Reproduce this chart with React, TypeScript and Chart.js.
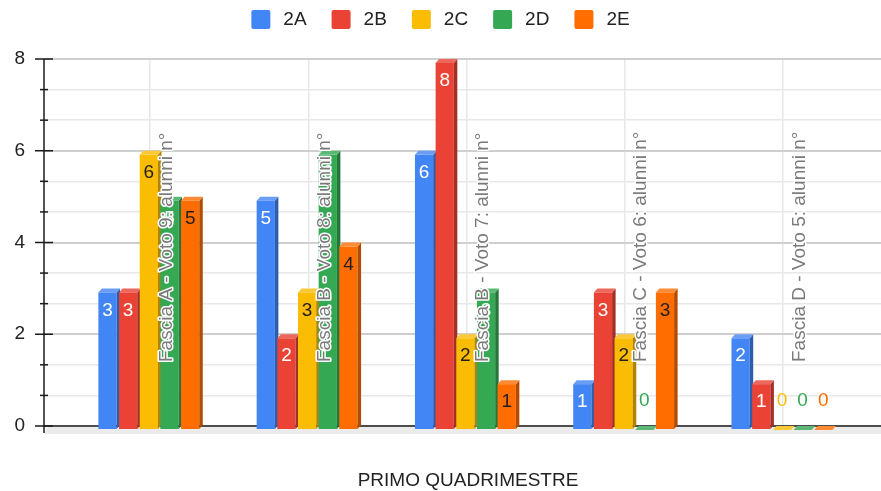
import React, { useEffect, useRef } from "react";
import { Chart, registerables } from "chart.js";

Chart.register(...registerables);

const CATEGORIES = [
  "Fascia A - Voto 9: alunni n°",
  "Fascia B - Voto 8: alunni n°",
  "Fascia B - Voto 7: alunni n°",
  "Fascia C - Voto 6: alunni n°",
  "Fascia D - Voto 5: alunni n°",
];
const SERIES_NAMES = ["2A", "2B", "2C", "2D", "2E"];
const VALUES_2A = [3, 5, 6, 1, 2];
const VALUES_2B = [3, 2, 8, 3, 1];
const VALUES_2C = [6, 3, 2, 2, 0];
const VALUES_2D = [5, 6, 3, 0, 0];
const VALUES_2E = [5, 4, 1, 3, 0];
const SERIES_VALUES = [VALUES_2A, VALUES_2B, VALUES_2C, VALUES_2D, VALUES_2E];
const Y_TICK_LABELS = [0, 2, 4, 6, 8];
const X_AXIS_TITLE = "PRIMO QUADRIMESTRE";

const COLORS = ["#4285F4", "#EA4335", "#FBBC04", "#34A853", "#FF6D01"];
const SIDE_COLORS = ["#2E5DAB", "#A42F25", "#B08403", "#24763A", "#B34C01"];
const TOP_COLORS = ["#6A9EF6", "#EE675D", "#FCC936", "#5CB975", "#FF8A34"];
const LABEL_COLORS = ["#ffffff", "#ffffff", "#1f1f1f", "#ffffff", "#1f1f1f"];
const FONT = '"Liberation Sans", Arial, sans-serif';

const W = 881;
const H = 491;
const DX = 3.5;
const DY = 4;

const isMajor = (v: number) => Y_TICK_LABELS.some((t) => Math.abs(t - v) < 1e-6);

const threeDPlugin = {
  id: "threeD",
  beforeDatasetsDraw(chart: any) {
    const { ctx, chartArea, scales } = chart;
    const y0 = scales.y.getPixelForValue(0);
    ctx.save();
    ctx.fillStyle = "#ebebeb";
    ctx.beginPath();
    ctx.moveTo(chartArea.left + DX, y0 + 1);
    ctx.lineTo(chartArea.right, y0 + 1);
    ctx.lineTo(chartArea.right, y0 + 8);
    ctx.lineTo(chartArea.left, y0 + 8);
    ctx.closePath();
    ctx.fill();
    ctx.strokeStyle = "#4d4d4d";
    ctx.lineWidth = 2;
    ctx.beginPath();
    ctx.moveTo(chartArea.left, y0);
    ctx.lineTo(chartArea.right, y0);
    ctx.stroke();
    ctx.restore();
  },
  afterDatasetsDraw(chart: any) {
    const { ctx, chartArea, scales } = chart;
    const y0 = scales.y.getPixelForValue(0);
    ctx.save();
    const labels: any[] = [];
    chart.data.datasets.forEach((ds: any, di: number) => {
      const meta = chart.getDatasetMeta(di);
      meta.data.forEach((el: any, i: number) => {
        const { x, y, base, width } = el.getProps(["x", "y", "base", "width"], true);
        const left = x - width / 2;
        const fw = width - 2.45;
        const right = left + fw;
        ctx.fillStyle = COLORS[di];
        ctx.fillRect(left, y + DY, fw, base - y);
        ctx.fillStyle = SIDE_COLORS[di];
        ctx.beginPath();
        ctx.moveTo(right, y + DY);
        ctx.lineTo(right + DX, y);
        ctx.lineTo(right + DX, base);
        ctx.lineTo(right, base + DY);
        ctx.closePath();
        ctx.fill();
        ctx.fillStyle = TOP_COLORS[di];
        ctx.beginPath();
        ctx.moveTo(left, y + DY);
        ctx.lineTo(left + DX, y);
        ctx.lineTo(right + DX, y);
        ctx.lineTo(right, y + DY);
        ctx.closePath();
        ctx.fill();
        const v = SERIES_VALUES[di][i];
        labels.push({
          text: String(v),
          x: left + fw / 2,
          y: v === 0 ? y0 - 25 : y + DY + 18,
          color: v === 0 ? COLORS[di] : LABEL_COLORS[di],
        });
      });
    });
    ctx.font = `19px ${FONT}`;
    ctx.textAlign = "center";
    ctx.textBaseline = "middle";
    labels.forEach((l) => {
      ctx.fillStyle = l.color;
      ctx.fillText(l.text, l.x, l.y);
    });
    CATEGORIES.forEach((c, i) => {
      const gx = scales.x.getPixelForValue(i);
      ctx.save();
      ctx.translate(gx + 21.5, chartArea.bottom - 64);
      ctx.rotate(-Math.PI / 2);
      ctx.textAlign = "left";
      ctx.textBaseline = "alphabetic";
      ctx.font = `19px ${FONT}`;
      ctx.lineJoin = "round";
      ctx.lineWidth = 3;
      ctx.strokeStyle = "#ffffff";
      ctx.strokeText(c, 0, 0);
      ctx.fillStyle = "#7a7a7a";
      ctx.fillText(c, 0, 0);
      ctx.restore();
    });
    ctx.restore();
  },
  afterDraw(chart: any) {
    const { ctx, chartArea, scales } = chart;
    ctx.save();
    const ax = chartArea.left;
    ctx.strokeStyle = "#1a1a1a";
    ctx.lineWidth = 1.5;
    ctx.beginPath();
    ctx.moveTo(ax, scales.y.getPixelForValue(Y_TICK_LABELS[Y_TICK_LABELS.length - 1]));
    ctx.lineTo(ax, scales.y.getPixelForValue(0) + 7);
    ctx.stroke();
    scales.y.ticks.forEach((t: any) => {
      const py = scales.y.getPixelForValue(t.value);
      ctx.beginPath();
      if (isMajor(t.value)) {
        ctx.moveTo(ax - 9, py);
        ctx.lineTo(ax + 9, py);
      } else {
        ctx.moveTo(ax - 4, py);
        ctx.lineTo(ax + 4, py);
      }
      ctx.stroke();
    });
    ctx.font = `19px ${FONT}`;
    ctx.textBaseline = "middle";
    ctx.textAlign = "left";
    const box = 19;
    const gap = 13;
    const itemGap = 25;
    const widths = SERIES_NAMES.map((n) => ctx.measureText(n).width);
    const total = widths.reduce((a, w) => a + box + gap + w, 0) + itemGap * (SERIES_NAMES.length - 1);
    let lx = chart.width / 2 - total / 2;
    SERIES_NAMES.forEach((n, i) => {
      ctx.fillStyle = COLORS[i];
      ctx.beginPath();
      (ctx as any).roundRect(lx, 10, box, box, 2);
      ctx.fill();
      ctx.fillStyle = "#222222";
      ctx.fillText(n, lx + box + gap, 20);
      lx += box + gap + widths[i] + itemGap;
    });
    ctx.textAlign = "center";
    ctx.fillStyle = "#222222";
    ctx.fillText(X_AXIS_TITLE, (chartArea.left + chartArea.right) / 2 + 5.5, 481);
    ctx.restore();
  },
};

export default function App() {
  const ref = useRef<HTMLCanvasElement | null>(null);
  useEffect(() => {
    if (!ref.current) return;
    const chart = new Chart(ref.current, {
      type: "bar",
      data: {
        datasets: SERIES_NAMES.map((name, di) => ({
          label: name,
          data: SERIES_VALUES[di].map((v, i) => ({ x: i, y: v })),
          backgroundColor: "rgba(0,0,0,0)",
          borderWidth: 0,
          categoryPercentage: 0.653,
          barPercentage: 1,
        })),
      },
      options: {
        animation: false,
        responsive: false,
        devicePixelRatio: 1,
        layout: { padding: { top: 59, left: 0, right: 0, bottom: 0 } },
        plugins: {
          legend: { display: false },
          tooltip: { enabled: false },
          title: { display: false },
        },
        scales: {
          x: {
            type: "linear",
            offset: false,
            min: -0.67,
            max: 4.618,
            afterBuildTicks: (scale: any) => {
              scale.ticks = CATEGORIES.map((_, i) => ({ value: i }));
            },
            afterFit: (scale: any) => {
              scale.height = 65;
            },
            ticks: { display: false },
            grid: { offset: false, drawTicks: false, color: "#e8e8e8", lineWidth: 1.5 },
            border: { display: false },
          },
          y: {
            type: "linear",
            min: Y_TICK_LABELS[0],
            max: Y_TICK_LABELS[Y_TICK_LABELS.length - 1],
            afterBuildTicks: (scale: any) => {
              const ticks: any[] = [];
              for (let k = 0; k < Y_TICK_LABELS.length - 1; k++) {
                const a = Y_TICK_LABELS[k];
                const b = Y_TICK_LABELS[k + 1];
                ticks.push({ value: a });
                ticks.push({ value: a + (b - a) / 3 });
                ticks.push({ value: a + (2 * (b - a)) / 3 });
              }
              ticks.push({ value: Y_TICK_LABELS[Y_TICK_LABELS.length - 1] });
              scale.ticks = ticks;
            },
            afterFit: (scale: any) => {
              scale.width = 44;
            },
            ticks: {
              autoSkip: false,
              padding: 19,
              color: "#222222",
              font: { family: FONT, size: 19 },
              callback: (v: any) => (isMajor(Number(v)) ? String(Math.round(Number(v))) : ""),
            },
            grid: {
              drawTicks: false,
              color: (c: any) => (c.tick && isMajor(c.tick.value) ? "#cfcfcf" : "#e8e8e8"),
              lineWidth: (c: any) => (c.tick && isMajor(c.tick.value) ? 2 : 1.5),
            },
            border: { display: false },
          },
        },
      },
      plugins: [threeDPlugin],
    } as any);
    return () => chart.destroy();
  }, []);
  return (
    <div style={{ position: "fixed", left: 0, top: 0, width: W, height: H, background: "#ffffff" }}>
      <canvas ref={ref} width={W} height={H} style={{ display: "block" }} />
    </div>
  );
}
